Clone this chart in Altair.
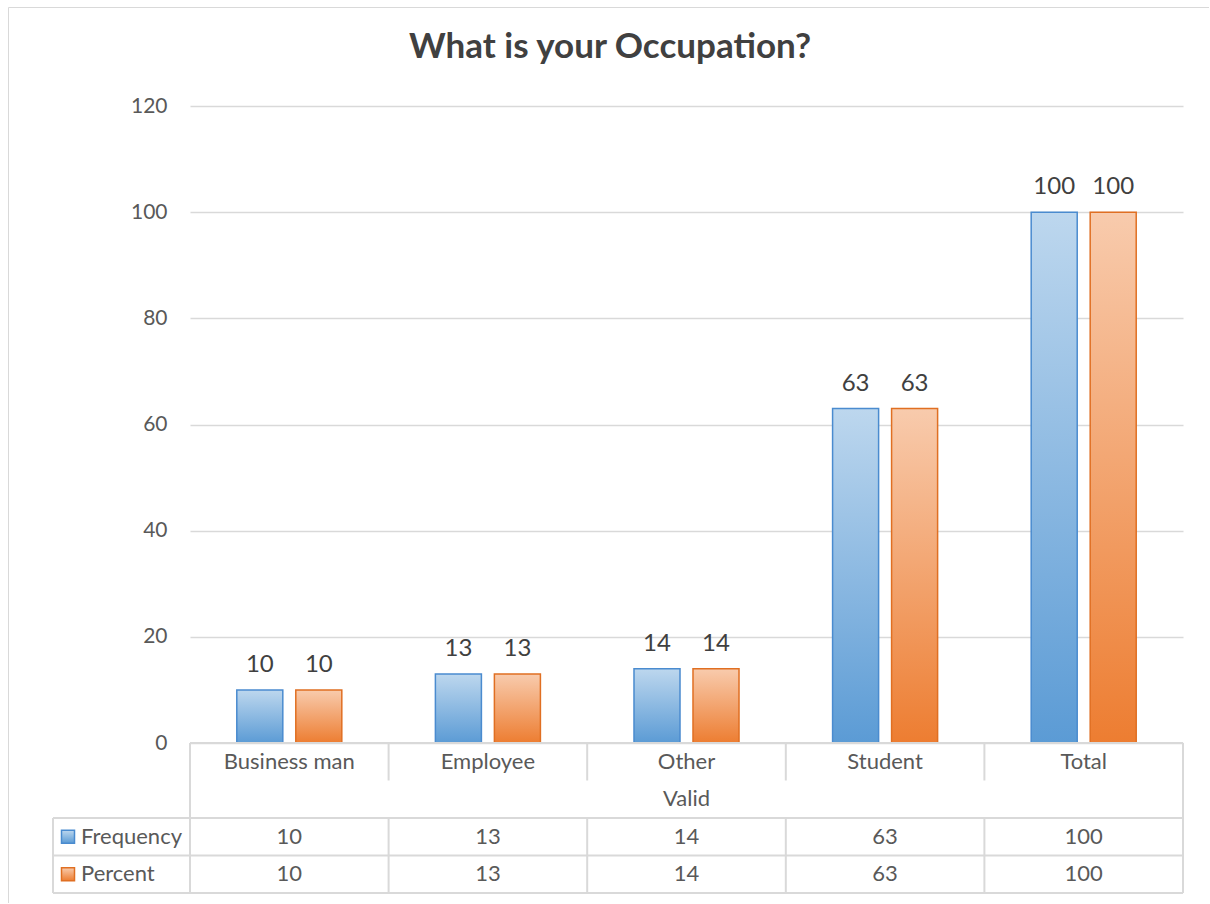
import altair as alt
import pandas as pd

# ---- data -------------------------------------------------------------
categories = ["Business man", "Employee", "Other", "Student", "Total"]
frequency = [10, 13, 14, 63, 100]
percent = [10, 13, 14, 63, 100]
series_names = ["Frequency", "Percent"]
y_ticks = [0, 20, 40, 60, 80, 100, 120]
group_label = "Valid"
title_text = "What is your Occupation?"

# ---- layout / style ---------------------------------------------------
PLOT_W = 993
PLOT_H = 637
ROW_H = 37.5
TABLE_H = 4 * ROW_H
LEGEND_COL_W = 137

GRID = "#D9D9D9"
LABEL = "#595959"
DARK = "#404040"
FONT = "Lato"

NO_FRAME = alt.ViewBackground(stroke="transparent", strokeWidth=0)


def vgrad(top, bottom):
    return {
        "gradient": "linear",
        "x1": 0, "y1": 0, "x2": 0, "y2": 1,
        "stops": [
            {"offset": 0, "color": top},
            {"offset": 1, "color": bottom},
        ],
    }


styles = {
    "Frequency": {"fill": vgrad("#BDD7EE", "#5B9BD5"), "stroke": "#4A8BCF"},
    "Percent": {"fill": vgrad("#F8CBAD", "#ED7D31"), "stroke": "#E06F22"},
}

bars_df = pd.DataFrame({
    "category": categories * 2,
    "series": [series_names[0]] * len(categories) + [series_names[1]] * len(categories),
    "value": frequency + percent,
})

one = pd.DataFrame({"k": [0]})

cat_scale = alt.Scale(domain=categories, paddingInner=0, paddingOuter=0)
x_enc = alt.X("category:N", scale=cat_scale, axis=None)
xoff_enc = alt.XOffset(
    "series:N",
    scale=alt.Scale(domain=series_names, paddingInner=0.22, paddingOuter=0.793),
)
y_enc = alt.Y(
    "value:Q",
    scale=alt.Scale(domain=[0, 120]),
    axis=alt.Axis(
        values=y_ticks, title=None, domain=False, ticks=False,
        labelFontSize=21, labelColor=LABEL, labelPadding=23, labelFont=FONT,
        gridColor=GRID, gridWidth=1.5,
    ),
)


def hrule(y, x0, x1, width=2):
    return alt.Chart(one).mark_rule(color=GRID, strokeWidth=width).encode(
        y=alt.value(y), x=alt.value(x0), x2=alt.value(x1)
    )


def vrule(x, y0, y1, width=2):
    return alt.Chart(one).mark_rule(color=GRID, strokeWidth=width).encode(
        x=alt.value(x), y=alt.value(y0), y2=alt.value(y1)
    )


# ---- bars and value labels ---------------------------------------------
bar_layers = []
for s in series_names:
    bar_layers.append(
        alt.Chart(bars_df)
        .transform_filter(alt.datum.series == s)
        .mark_bar(fill=styles[s]["fill"], stroke=styles[s]["stroke"], strokeWidth=1.5)
        .encode(x=x_enc, xOffset=xoff_enc, y=y_enc)
    )

value_labels = (
    alt.Chart(bars_df)
    .mark_text(baseline="alphabetic", dy=-18, fontSize=24, color=DARK, font=FONT)
    .encode(x=x_enc, xOffset=xoff_enc, y=y_enc, text="value:Q")
)

top = alt.layer(*bar_layers, value_labels).properties(
    width=PLOT_W,
    height=PLOT_H,
    view=NO_FRAME,
    title=alt.TitleParams(
        text=title_text, fontSize=35, fontWeight="bold", color=DARK, font=FONT,
        anchor="middle", dx=-76.5, baseline="alphabetic", offset=2,
    ),
)

# ---- data table below the plot -----------------------------------------
rows = ["cat", "valid", "Frequency", "Percent"]
row_scale = alt.Scale(domain=rows, paddingInner=0, paddingOuter=0)
row_enc = alt.Y("row:N", scale=row_scale, axis=None)

cells = pd.DataFrame({
    "category": categories * 3,
    "row": ["cat"] * len(categories) + ["Frequency"] * len(categories) + ["Percent"] * len(categories),
    "label": categories + [str(v) for v in frequency] + [str(v) for v in percent],
})

cell_text = alt.Chart(cells).mark_text(fontSize=22, color=LABEL, font=FONT).encode(
    x=x_enc, y=row_enc, text="label:N"
)

valid_text = alt.Chart(pd.DataFrame({"row": ["valid"], "label": [group_label]})).mark_text(
    fontSize=22, color=LABEL, font=FONT
).encode(x=alt.value(PLOT_W / 2), y=row_enc, text="label:N")

legend_df = pd.DataFrame({"row": series_names})
legend_layers = []
for s in series_names:
    legend_layers.append(
        alt.Chart(legend_df)
        .transform_filter(alt.datum.row == s)
        .mark_square(size=169, fill=styles[s]["fill"], stroke=styles[s]["stroke"],
                     strokeWidth=1.5, opacity=1)
        .encode(x=alt.value(-LEGEND_COL_W + 15), y=row_enc)
    )
legend_text = alt.Chart(legend_df).mark_text(
    align="left", fontSize=22, color=LABEL, font=FONT
).encode(x=alt.value(-LEGEND_COL_W + 28), y=row_enc, text="row:N")

# table grid lines
h_lines = [
    hrule(0, 0, PLOT_W),
    hrule(2 * ROW_H, -LEGEND_COL_W, PLOT_W),
    hrule(3 * ROW_H, -LEGEND_COL_W, PLOT_W),
    hrule(4 * ROW_H, -LEGEND_COL_W, PLOT_W),
]
v_edges = [
    vrule(0, 0, TABLE_H),
    vrule(PLOT_W, 0, TABLE_H),
    vrule(-LEGEND_COL_W, 2 * ROW_H, TABLE_H),
]
dividers_df = pd.DataFrame({"category": categories[1:]})
div_x = alt.X("category:N", scale=cat_scale, axis=None, bandPosition=0)
dividers = [
    alt.Chart(dividers_df).mark_rule(color=GRID, strokeWidth=2).encode(
        x=div_x, y=alt.value(0), y2=alt.value(ROW_H)
    ),
    alt.Chart(dividers_df).mark_rule(color=GRID, strokeWidth=2).encode(
        x=div_x, y=alt.value(2 * ROW_H), y2=alt.value(TABLE_H)
    ),
]

# outer chart frame (top and left edges), measured from the table origin
FRAME_TOP = -(PLOT_H + 98.5)
frame_top = hrule(FRAME_TOP, -181.5, 1019, 1)
frame_left = vrule(-181.5, FRAME_TOP, 160, 1)

bottom = alt.layer(
    frame_top, frame_left,
    *h_lines, *v_edges, *dividers, cell_text, valid_text, *legend_layers, legend_text
).properties(width=PLOT_W, height=TABLE_H, view=NO_FRAME)

chart = (
    alt.vconcat(top, bottom, spacing=0, bounds="flush")
    .properties(padding={"left": 8, "top": 7, "right": 0, "bottom": 0}, background="white")
    .configure_view(stroke="transparent", strokeWidth=0)
    .configure(font=FONT)
)

chart.save("out.html", embed_options={"renderer": "svg", "actions": False})
